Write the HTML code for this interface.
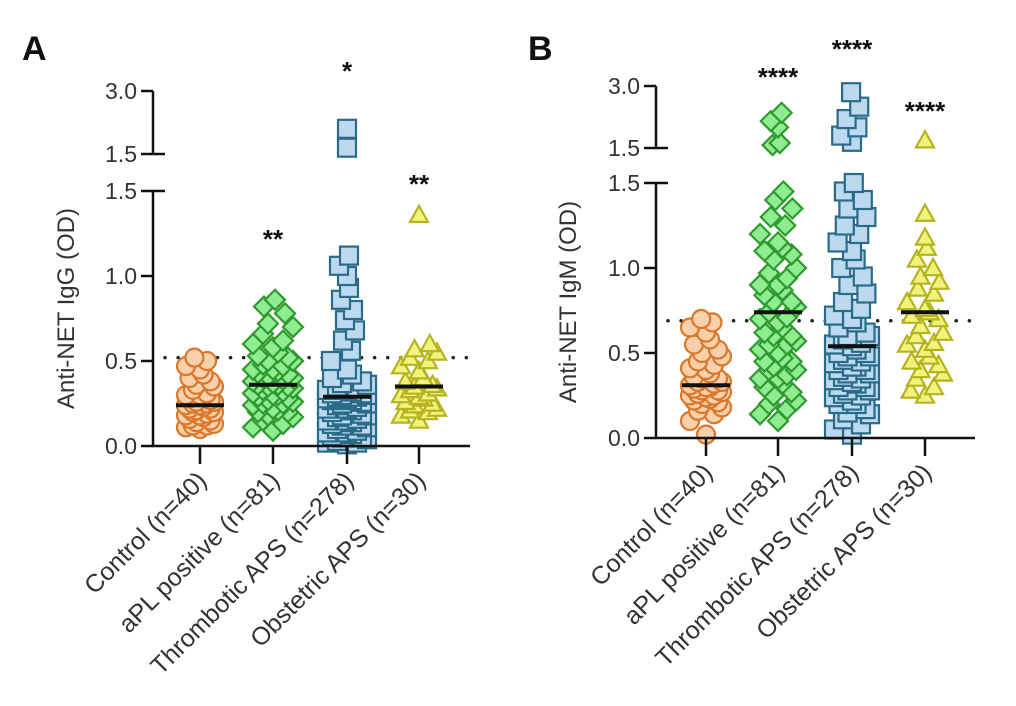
<!DOCTYPE html>
<html><head><meta charset="utf-8">
<style>
html,body{margin:0;padding:0;background:#fff;}
svg{display:block;font-family:"Liberation Sans",Arial,sans-serif;}
</style></head>
<body>
<svg id="chart" width="1016" height="706" viewBox="0 0 1016 706"></svg>
<script>
// ---------- data ----------
const categories = ["Control (n=40)","aPL positive (n=81)","Thrombotic APS (n=278)","Obstetric APS (n=30)"];
const yTickLower = [0.0,0.5,1.0,1.5];
const yTickUpper = [1.5,3.0];
// Panel A (IgG)
const iggControl = [0.52,0.50,0.47,0.45,0.42,0.40,0.38,0.36,0.35,0.33,0.31,0.30,0.30,0.29,0.28,0.27,0.26,0.26,0.25,0.25,0.24,0.24,0.23,0.22,0.22,0.21,0.20,0.20,0.19,0.18,0.18,0.17,0.16,0.15,0.14,0.13,0.12,0.12,0.11,0.10];
const iggAPL = [0.86,0.82,0.78,0.72,0.70,0.66,0.62,0.60,0.58,0.55,0.53,0.52,0.50,0.48,0.47,0.45,0.44,0.43,0.42,0.41,0.40,0.39,0.38,0.37,0.36,0.36,0.35,0.34,0.33,0.32,0.31,0.30,0.29,0.28,0.27,0.26,0.25,0.24,0.22,0.21,0.20,0.18,0.17,0.15,0.13,0.11,0.09,0.40,0.35,0.30,0.25,0.45,0.50,0.20];
const iggThromb = [2.10,1.65,1.12,1.06,1.00,0.93,0.86,0.80,0.74,0.68,0.62,0.56,0.50,0.45,0.42,0.40,0.38,0.37,0.36,0.35,0.34,0.33,0.32,0.31,0.30,0.30,0.29,0.29,0.28,0.28,0.27,0.26,0.25,0.24,0.23,0.22,0.21,0.20,0.19,0.18,0.17,0.16,0.15,0.14,0.13,0.12,0.11,0.10,0.09,0.08,0.07,0.06,0.05,0.04,0.03,0.02,0.01,0.33,0.31,0.27,0.25,0.22,0.18,0.15,0.12,0.08,0.05,0.02];
const iggObst = [1.36,0.60,0.57,0.55,0.52,0.50,0.47,0.44,0.40,0.38,0.36,0.35,0.33,0.31,0.30,0.28,0.26,0.24,0.22,0.20,0.18,0.15,0.34,0.29,0.25,0.21];
const iggMedians = [0.24,0.36,0.29,0.35];
const iggCutoff = 0.52;
const iggStars = ["","**","*","**"];
// Panel B (IgM)
const igmControl = [0.70,0.68,0.65,0.62,0.58,0.55,0.52,0.50,0.48,0.45,0.43,0.41,0.40,0.38,0.36,0.35,0.33,0.32,0.31,0.30,0.30,0.29,0.28,0.27,0.26,0.25,0.24,0.23,0.22,0.20,0.18,0.16,0.14,0.10,0.02,0.33,0.28,0.25,0.21,0.35];
const igmAPL = [2.35,2.15,2.00,1.62,1.57,1.45,1.40,1.35,1.30,1.25,1.20,1.15,1.12,1.08,1.05,1.00,0.97,0.94,0.90,0.87,0.84,0.80,0.77,0.74,0.71,0.68,0.65,0.62,0.60,0.57,0.55,0.52,0.50,0.47,0.45,0.42,0.40,0.37,0.35,0.32,0.30,0.27,0.25,0.22,0.20,0.17,0.14,0.10,0.60,0.55,0.45,0.40,0.35,0.70,0.80,0.90,1.10];
const igmThromb = [2.85,2.50,2.20,2.00,1.80,1.65,1.50,1.45,1.40,1.35,1.30,1.25,1.20,1.15,1.10,1.05,1.00,0.95,0.90,0.85,0.80,0.76,0.72,0.68,0.65,0.62,0.60,0.58,0.56,0.54,0.52,0.50,0.48,0.46,0.44,0.42,0.40,0.38,0.36,0.34,0.32,0.30,0.28,0.26,0.24,0.22,0.20,0.17,0.14,0.11,0.08,0.05,0.02,0.55,0.50,0.45,0.40,0.35,0.30,0.25,0.20,0.15,0.60,0.70,0.48,0.42,0.38,0.33,0.28];
const igmObst = [1.69,1.32,1.18,1.12,1.05,1.00,0.95,0.92,0.88,0.85,0.80,0.76,0.72,0.70,0.66,0.60,0.56,0.52,0.48,0.45,0.40,0.35,0.30,0.28,0.25,0.43,0.38,0.74,0.55,0.62];
const igmMedians = [0.31,0.74,0.54,0.74];
const igmCutoff = 0.69;
const igmStars = ["","****","****","****"];

// ---------- drawing ----------
const NS="http://www.w3.org/2000/svg";
const svg=document.getElementById('chart');
function mk(tag,attrs,parent){const e=document.createElementNS(NS,tag);for(const k in attrs)e.setAttribute(k,attrs[k]);(parent||svg).appendChild(e);return e;}

const styles=[
 {shape:'circle',stroke:'#d9782a',fill:'#f8d0ab',s:18},
 {shape:'diamond',stroke:'#2e9a2e',fill:'#90ec90',s:20},
 {shape:'square',stroke:'#2a6c88',fill:'#bcd9f0',s:18},
 {shape:'triangle',stroke:'#b5b41e',fill:'#f2f27e',s:18}
];
const jitterPattern=[0,-1,0.5,-0.5,1,-0.25,0.75,-0.75,0.25];

function panel(cfg){
  const g=mk('g',{});
  
  
  const y=v=> v<=1.5 ? cfg.y0+(cfg.y15-cfg.y0)*v/1.5 : cfg.u15+(cfg.u30-cfg.u15)*(v-1.5)/1.5;
  const x=i=>cfg.xs[i];
  const cut=mk('line',{x1:cfg.ax+12,x2:cfg.xEnd,y1:y(cfg.cutoff),y2:y(cfg.cutoff),stroke:'#222','stroke-width':3.5,'stroke-dasharray':'0.1 13','stroke-linecap':'round'},g);
  
  
  cfg.groups.forEach((vals,i)=>{
    const st=styles[i];
    const gg=mk('g',{},g);
    
    
    const sorted=vals.slice().sort((a,b)=>a-b);
    const ys=sorted.map(y);
    const maxOff=cfg.maxOff[i];
    sorted.forEach((v,j)=>{
      const py=ys[j];
      const near=ys.filter(q=>Math.abs(q-py)<st.s).length;
      const w=maxOff*Math.min(1,(near-1)/5);
      const off=jitterPattern[j%jitterPattern.length]*w;
      const px=x(i)+off, h=st.s/2;
      let m;
      const common={fill:st.fill,stroke:st.stroke,'stroke-width':2.2};
      if(st.shape==='circle') m=mk('circle',Object.assign({cx:px,cy:py,r:h},common),gg);
      else if(st.shape==='square') m=mk('rect',Object.assign({x:px-h,y:py-h,width:st.s,height:st.s},common),gg);
      else if(st.shape==='diamond') m=mk('polygon',Object.assign({points:`${px},${py-h} ${px+h},${py} ${px},${py+h} ${px-h},${py}`},common),gg);
      else m=mk('polygon',Object.assign({points:`${px},${py-h} ${px+h},${py+h*0.8} ${px-h},${py+h*0.8}`},common),gg);
      
      
    });
    const med=mk('line',{x1:x(i)-24,x2:x(i)+24,y1:y(cfg.medians[i]),y2:y(cfg.medians[i]),stroke:'#111','stroke-width':4},g);
    
    
    if(cfg.stars[i]){
      const t=mk('text',{x:x(i),y:cfg.starY[i],'text-anchor':'middle','font-size':26,'font-weight':'bold',fill:'#111'},g);
      t.textContent=cfg.stars[i];
      
      
    }
  });
  const ax=mk('g',{stroke:'#111','stroke-width':2.5,fill:'none'},g);
  
  
  mk('line',{x1:cfg.ax,x2:cfg.ax,y1:cfg.y0,y2:cfg.y15},ax);
  mk('line',{x1:cfg.ax,x2:cfg.ax,y1:cfg.u15,y2:cfg.u30},ax);
  mk('line',{x1:cfg.ax-1,x2:cfg.xEnd,y1:cfg.y0,y2:cfg.y0},ax);
  yTickLower.forEach(v=>{
    mk('line',{x1:cfg.ax-12,x2:cfg.ax,y1:y(v),y2:y(v)},ax);
    const t=mk('text',{x:cfg.ax-16,y:y(v)+8,'text-anchor':'end','font-size':23,fill:'#333'},g);
    t.textContent=v.toFixed(1);
    
    
  });
  yTickUpper.forEach(v=>{
    const yy= v===1.5?cfg.u15:y(v);
    mk('line',{x1:cfg.ax-12,x2:cfg.ax,y1:yy,y2:yy},ax);
    const t=mk('text',{x:cfg.ax-16,y:yy+8,'text-anchor':'end','font-size':23,fill:'#333'},g);
    t.textContent=v.toFixed(1);
    
    
  });
  mk('line',{x1:cfg.ax,x2:cfg.ax+12,y1:cfg.u15,y2:cfg.u15},ax);
  mk('line',{x1:cfg.ax,x2:cfg.ax+12,y1:cfg.y15,y2:cfg.y15},ax);
  categories.forEach((c,i)=>{
    mk('line',{x1:x(i),x2:x(i),y1:cfg.y0,y2:cfg.y0+18},ax);
    const tx=x(i)+8, ty=cfg.y0+36;
    const t=mk('text',{x:tx,y:ty,'text-anchor':'end','font-size':25,fill:'#333',transform:`rotate(-45 ${tx} ${ty})`},g);
    t.textContent=c;
    
    
  });
  const ty=mk('text',{x:cfg.titleX,y:(cfg.y0+cfg.u30)/2+40,'text-anchor':'middle','font-size':24,fill:'#333',transform:`rotate(-90 ${cfg.titleX} ${(cfg.y0+cfg.u30)/2+40})`},g);
  ty.textContent=cfg.title;
  
  
  const L=mk('text',{x:cfg.letterX,y:cfg.letterY,'font-size':34,'font-weight':'bold',fill:'#111'},g);
  L.textContent=cfg.letter;
  
  
}

panel({name:'panel-a-igg',letter:'A',letterX:22,letterY:60,title:'Anti-NET IgG (OD)',titleX:74,
  ax:153,y0:446,y15:191,u15:154,u30:91,xEnd:470,xs:[200,273,347,419],
  groups:[iggControl,iggAPL,iggThromb,iggObst],medians:iggMedians,cutoff:iggCutoff,stars:iggStars,
  starY:[0,248,80,193],maxOff:[14,20,20,18]});
panel({name:'panel-b-igm',letter:'B',letterX:528,letterY:60,title:'Anti-NET IgM (OD)',titleX:576,
  ax:656,y0:438,y15:183,u15:148,u30:86,xEnd:975,xs:[706,778,852,925],
  groups:[igmControl,igmAPL,igmThromb,igmObst],medians:igmMedians,cutoff:igmCutoff,stars:igmStars,
  starY:[0,86,58,120],maxOff:[16,18,18,18]});
</script>
</body></html>
